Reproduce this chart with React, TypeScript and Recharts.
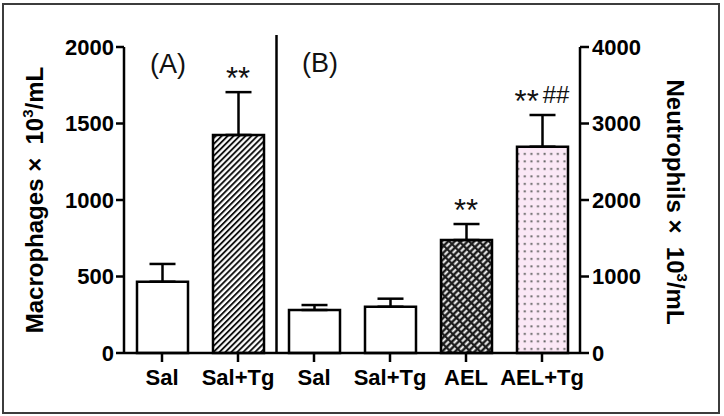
import React from 'react';
import { ComposedChart, Bar, Scatter, XAxis, YAxis, ErrorBar, Cell } from 'recharts';

const groups = ['Sal', 'Sal+Tg', 'Sal', 'Sal+Tg', 'AEL', 'AEL+Tg'];
const macrophages = [466, 1425, null, null, null, null];
const macrophagesSem = [116, 280, null, null, null, null];
const neutrophils = [null, null, 562, 605, 1477, 2697];
const neutrophilsSem = [null, null, 65, 105, 209, 414];
const stars = ['', '**', '', '', '**', '**'];
const hashes = ['', '', '', '', '', '##'];
const macTicks = [0, 500, 1000, 1500, 2000];
const neuTicks = [0, 1000, 2000, 3000, 4000];

const barFills = ['#ffffff', 'url(#hatch)', '#ffffff', '#ffffff', 'url(#weave)', 'url(#dots)'];

const FONT = '"Liberation Sans", Arial, sans-serif';

const rows = groups.map((name, i) => ({
  name,
  mac: macrophages[i],
  macErr: macrophagesSem[i] == null ? undefined : [0, macrophagesSem[i]],
  macTop: macrophages[i] == null ? null : macrophages[i]! + (macrophagesSem[i] || 0),
  neu: neutrophils[i],
  neuErr: neutrophilsSem[i] == null ? undefined : [0, neutrophilsSem[i]],
  neuTop: neutrophils[i] == null ? null : neutrophils[i]! + (neutrophilsSem[i] || 0),
  stars: stars[i],
  hashes: hashes[i],
}));

// significance marks drawn just above the error bar cap
const markShape = (key: 'mac' | 'neu') => (props: any) => {
  const { cx, cy, payload } = props;
  if (payload[key] == null || (!payload.stars && !payload.hashes) || !isFinite(cy)) return <g />;
  return (
    <text x={cx} y={cy - 3} textAnchor="middle" fontFamily={FONT} fill="#111">
      <tspan fontSize={31}>{payload.stars}</tspan>
      {payload.hashes ? (
        <tspan fontSize={24} dx={4} dy={-9}>
          {payload.hashes}
        </tspan>
      ) : null}
    </text>
  );
};

const tickStyle = { fill: '#000', fontSize: 22, fontWeight: 'bold', fontFamily: FONT };
const axisLine = { stroke: '#000', strokeWidth: 2.5 };

const leftTitle = (props: any) => {
  const cx = props.viewBox.x + 43;
  const cy = 200;
  return (
    <text transform={`translate(${cx},${cy}) rotate(-90)`} textAnchor="middle" fontSize={24} fontWeight="bold" fontFamily={FONT} fill="#000">
      <tspan>Macrophages ×{'\u00a0\u00a0'}10</tspan>
      <tspan dy={-10} fontSize={15}>3</tspan>
      <tspan dy={10}>/mL</tspan>
    </text>
  );
};

const rightTitle = (props: any) => {
  const cx = props.viewBox.x + 87;
  const cy = 202;
  return (
    <text transform={`translate(${cx},${cy}) rotate(90)`} textAnchor="middle" fontSize={24} fontWeight="bold" fontFamily={FONT} fill="#000">
      <tspan>Neutrophils ×{'\u00a0\u00a0'}10</tspan>
      <tspan dy={-10} fontSize={15}>3</tspan>
      <tspan dy={10}>/mL</tspan>
    </text>
  );
};

export default function App() {
  return (
    <div style={{ position: 'absolute', left: 0, top: 0, width: 724, height: 416, background: '#fff' }}>
      <div
        style={{
          position: 'absolute',
          left: 2,
          top: 3,
          width: 718,
          height: 411,
          border: '2px solid #3c3c3c',
          boxSizing: 'border-box',
        }}
      />
      <ComposedChart
        width={724}
        height={416}
        data={rows}
        margin={{ top: 47, right: 0, bottom: 0, left: 0 }}
        style={{ position: 'absolute', left: 0, top: 0, fontFamily: FONT }}
      >
        <defs>
          <pattern id="hatch" patternUnits="userSpaceOnUse" width={4.2} height={4.2} patternTransform="rotate(45)">
            <rect width={4.2} height={4.2} fill="#fff" />
            <rect x={0} y={0} width={1.9} height={4.2} fill="#111" />
          </pattern>
          <pattern id="weave" patternUnits="userSpaceOnUse" width={4.6} height={7} patternTransform="rotate(45)">
            <rect width={4.6} height={7} fill="#1c1c1c" />
            <rect x={1.3} y={1} width={2} height={4.8} fill="#fff" />
          </pattern>
          <pattern id="dots" patternUnits="userSpaceOnUse" width={6.6} height={7.5}>
            <rect width={6.6} height={7.5} fill="#fbe8f6" />
            <rect x={2.4} y={2.9} width={2} height={2} fill="#666" />
          </pattern>
        </defs>
        <XAxis
          dataKey="name"
          height={63}
          interval={0}
          tick={tickStyle}
          tickSize={9}
          tickMargin={7}
          tickLine={axisLine}
          axisLine={axisLine}
        />
        <YAxis
          yAxisId="left"
          width={124}
          domain={[0, 2000]}
          ticks={macTicks}
          interval={0}
          tick={tickStyle}
          tickSize={8}
          tickMargin={2}
          tickLine={axisLine}
          axisLine={axisLine}
          label={{ content: leftTitle }}
        />
        <YAxis
          yAxisId="right"
          orientation="right"
          width={144}
          domain={[0, 4000]}
          ticks={neuTicks}
          interval={0}
          tick={tickStyle}
          tickSize={9}
          tickMargin={3}
          tickLine={axisLine}
          axisLine={axisLine}
          label={{ content: rightTitle }}
        />
        <Bar yAxisId="left" dataKey="mac" stackId="g" barSize={51} stroke="#000" strokeWidth={2.5} isAnimationActive={false}>
          {rows.map((r, i) => (
            <Cell key={`m-${i}`} fill={barFills[i]} />
          ))}
          <ErrorBar dataKey="macErr" direction="y" width={13} stroke="#000" strokeWidth={2.5} isAnimationActive={false} />
        </Bar>
        <Bar yAxisId="right" dataKey="neu" stackId="g" barSize={51} stroke="#000" strokeWidth={2.5} isAnimationActive={false}>
          {rows.map((r, i) => (
            <Cell key={`n-${i}`} fill={barFills[i]} />
          ))}
          <ErrorBar dataKey="neuErr" direction="y" width={13} stroke="#000" strokeWidth={2.5} isAnimationActive={false} />
        </Bar>
        <Scatter yAxisId="left" dataKey="macTop" shape={markShape('mac')} isAnimationActive={false} />
        <Scatter yAxisId="right" dataKey="neuTop" shape={markShape('neu')} isAnimationActive={false} />
      </ComposedChart>
      <svg width={724} height={416} style={{ position: 'absolute', left: 0, top: 0, pointerEvents: 'none' }}>
        <line x1={276.5} y1={35} x2={276.5} y2={354} stroke="#000" strokeWidth={2.5} />
        <text x={168} y={73} textAnchor="middle" fontSize={27} fontFamily={FONT} fill="#111">(A)</text>
        <text x={320} y={72} textAnchor="middle" fontSize={27} fontFamily={FONT} fill="#111">(B)</text>
      </svg>
    </div>
  );
}
